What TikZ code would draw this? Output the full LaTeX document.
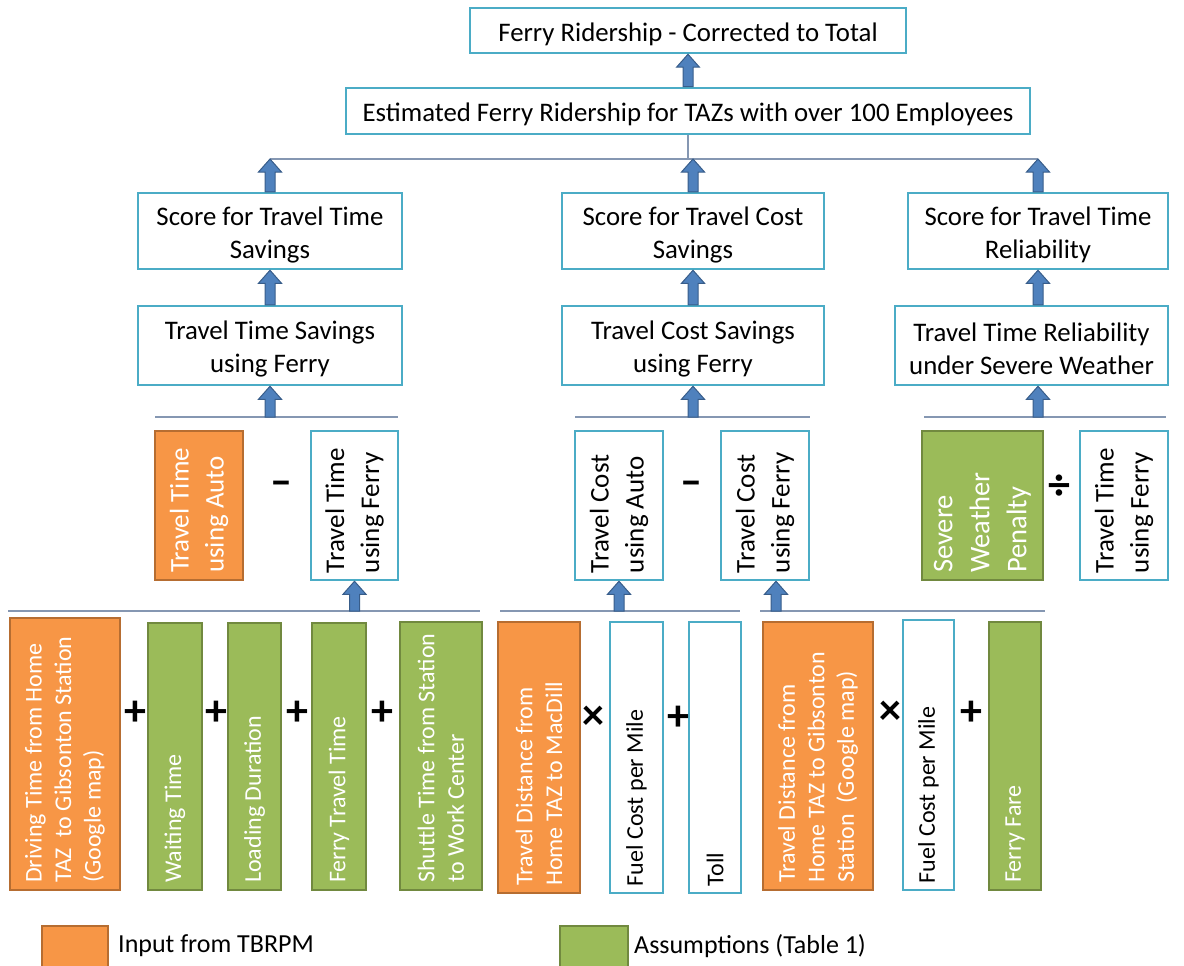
\documentclass[tikz,border=0pt]{standalone}
\usepackage{fontspec}
\setmainfont{Carlito}
\usetikzlibrary{calc}
\definecolor{bblue}{HTML}{4BACC6}
\definecolor{orng}{HTML}{F79646}
\definecolor{odark}{HTML}{B66D31}
\definecolor{grn}{HTML}{9BBB59}
\definecolor{gdark}{HTML}{71893F}
\definecolor{ablue}{HTML}{4F81BD}
\definecolor{adark}{HTML}{385D8A}
\definecolor{lgray}{HTML}{8597B2}
\tikzset{
  bx/.style={draw=bblue, line width=2.5pt, fill=white, inner sep=0pt},
  ob/.style={draw=odark, fill=orng, line width=2pt, inner sep=0pt},
  gb/.style={draw=gdark, fill=grn, line width=2pt, inner sep=0pt},
  hfont/.style={font=\fontsize{26.8}{33}\selectfont, align=center, inner sep=0pt},
  rfive/.style={font=\fontsize{27}{35}\selectfont},
  rfivebig/.style={font=\fontsize{28.5}{37}\selectfont},
  rsix/.style={font=\fontsize{24}{29.5}\selectfont},
  arrowsty/.style={fill=ablue, draw=adark, line width=1pt},
  conn/.style={draw=lgray, line width=1.5pt},
  opsym/.style={font=\fontsize{44}{44}\selectfont\bfseries, inner sep=0pt},
  legtext/.style={font=\fontsize{26}{26}\selectfont, anchor=west, inner sep=0pt}
}
\newcommand\hbx[7]{\node[#1, minimum width={#4-#3}, minimum height={#6-#5}] (#2) at ({(#3+#4)/2},{(#5+#6)/2}) {};
  \node[hfont] (#2t) at ([yshift=-3.5pt]#2.center) {#7};}
\newcommand\rbx[9]{\node[#1, minimum width={#4-#3}, minimum height={#6-#5}] (#2) at ({(#3+#4)/2},{(#5+#6)/2}) {};
  \node[#7, text=#8, rotate=90, anchor=west, inner sep=0pt, align=left] (#2t) at ([yshift=8pt]#2.south) {#9};}
\newcommand\barrow[2]{\path[arrowsty] let \p1=(#1), \p2=(#2) in
  (\x1-5pt,\y1) -- (\x1-5pt,\y2-13pt) -- (\x1-11.5pt,\y2-13pt) -- (\x1,\y2) -- (\x1+11.5pt,\y2-13pt) -- (\x1+5pt,\y2-13pt) -- (\x1+5pt,\y1) -- cycle;}
\begin{document}
\begin{tikzpicture}[x=1pt,y=-1pt]
\useasboundingbox (0,0) rectangle (1184,966);
% top levels
\hbx{bx}{l1}{470}{906}{8}{53}{Ferry Ridership - Corrected to Total}
\hbx{bx}{l2}{346}{1030}{88}{134}{Estimated Ferry Ridership for TAZs with over 100 Employees}
\hbx{bx}{l3a}{138}{402}{193}{269}{Score for Travel Time\\Savings}
\hbx{bx}{l3b}{562}{824}{193}{269}{Score for Travel Cost\\Savings}
\hbx{bx}{l3c}{908}{1168}{193}{269}{Score for Travel Time\\Reliability}
\hbx{bx}{l4a}{138}{402}{306}{385}{Travel Time Savings\\using Ferry}
\hbx{bx}{l4b}{562}{824}{306}{385}{Travel Cost Savings\\using Ferry}
\hbx{bx}{l4c}{895}{1168}{306}{385}{Travel Time Reliability\\under Severe Weather}
% row 5
\rbx{ob}{r5a}{155}{243}{431}{580}{rfive}{white}{Travel Time\\using Auto}
\rbx{bx}{r5b}{311}{398}{431}{580}{rfive}{black}{Travel Time\\using Ferry}
\rbx{bx}{r5c}{575}{663}{431}{580}{rfive}{black}{Travel Cost\\using Auto}
\rbx{bx}{r5d}{721}{809}{431}{580}{rfive}{black}{Travel Cost\\using Ferry}
\rbx{gb}{r5e}{922}{1043}{431}{580}{rfivebig}{white}{Severe\\Weather\\Penalty}
\rbx{bx}{r5f}{1080}{1168}{431}{580}{rfive}{black}{Travel Time\\using Ferry}
\node[opsym] (o5a) at (281,488) {–};
\node[opsym] (o5b) at (691,488) {–};
\node[opsym] (o5c) at (1059,487) {÷};
% row 6
\rbx{ob}{r6a}{10}{120}{618}{890}{rsix}{white}{Driving Time from Home\\TAZ\ \ to Gibsonton Station\\(Google map)}
\rbx{gb}{r6b}{148}{202}{623}{890}{rsix}{white}{Waiting Time}
\rbx{gb}{r6c}{228}{281}{623}{890}{rsix}{white}{Loading Duration}
\rbx{gb}{r6d}{312}{366}{623}{890}{rsix}{white}{Ferry Travel Time}
\rbx{gb}{r6e}{400}{482}{622}{890}{rsix}{white}{Shuttle Time from Station\\to Work Center}
\rbx{ob}{r6f}{498}{580}{622}{893}{rsix}{white}{Travel Distance from\\Home TAZ to MacDill}
\rbx{bx}{r6g}{610}{663}{622}{893}{rsix}{black}{Fuel Cost per Mile}
\rbx{bx}{r6h}{689}{741}{622}{893}{rsix}{black}{Toll}
\rbx{ob}{r6i}{763}{873}{622}{890}{rsix}{white}{Travel Distance from\\Home TAZ to Gibsonton\\Station\ \ (Google map)}
\rbx{bx}{r6j}{903}{954}{620}{890}{rsix}{black}{Fuel Cost per Mile}
\rbx{gb}{r6k}{989}{1041}{622}{890}{rsix}{white}{Ferry Fare}
\node[opsym] (o6a) at (135,713) {+};
\node[opsym] (o6b) at (216,713) {+};
\node[opsym] (o6c) at (297,713) {+};
\node[opsym] (o6d) at (382,713) {+};
\node[opsym] (o6e) at (593,718) {×};
\node[opsym] (o6f) at (678,718) {+};
\node[opsym] (o6g) at (890,713) {×};
\node[opsym] (o6h) at (971,713) {+};
% connector lines
\coordinate (h0a) at (270,159);
\coordinate (h0b) at (1038,159);
\draw[conn] (l2.south) -- (l2.south |- h0a);
\draw[conn] (h0a) -- (h0b);
\coordinate (h1a) at (155,417); \coordinate (h1b) at (398,417);
\coordinate (h1c) at (575,417); \coordinate (h1d) at (810,417);
\coordinate (h1e) at (924,417); \coordinate (h1f) at (1166,417);
\draw[conn] (h1a) -- (h1b);
\draw[conn] (h1c) -- (h1d);
\draw[conn] (h1e) -- (h1f);
\coordinate (h2a) at (8,611); \coordinate (h2b) at (480,611);
\coordinate (h2c) at (500,611); \coordinate (h2d) at (740,611);
\coordinate (h2e) at (760,611); \coordinate (h2f) at (1045,611);
\draw[conn] (h2a) -- (h2b);
\draw[conn] (h2c) -- (h2d);
\draw[conn] (h2e) -- (h2f);
% block arrows
\barrow{l2.north}{l1.south}
\barrow{l3a.north}{l3a.north |- h0a}
\barrow{l3b.north}{l3b.north |- h0a}
\barrow{l3c.north}{l3c.north |- h0a}
\barrow{l4a.north}{l3a.south}
\barrow{l4b.north}{l3b.south}
\barrow{l3c.south |- l4c.north}{l3c.south}
\barrow{h1a -| l4a.south}{l4a.south}
\barrow{h1c -| l4b.south}{l4b.south}
\barrow{h1e -| l3c.south}{l3c.south |- l4c.south}
\barrow{h2a -| r5b.south}{r5b.south}
\barrow{h2c -| r5c.south}{r5c.south}
\coordinate (a5d) at (776,611);
\barrow{a5d}{a5d |- r5d.south}
% legend
\node[ob, minimum width=66, minimum height=44] (lg1) at (75,948) {};
\node[legtext] (lt1) at (118,946) {Input from TBRPM};
\node[gb, minimum width=68, minimum height=44] (lg2) at (594,948) {};
\node[legtext] (lt2) at (634,946) {Assumptions (Table 1)};
\end{tikzpicture}
\end{document}
